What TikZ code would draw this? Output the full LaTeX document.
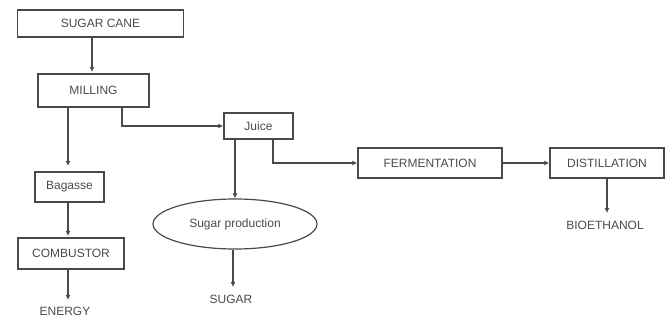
\documentclass[tikz,border=0pt]{standalone}
\usepackage{fontspec}
\setmainfont{Liberation Sans}
\usetikzlibrary{arrows.meta,shapes.geometric}
\definecolor{ink}{HTML}{4A4A4A}
\begin{document}
\begin{tikzpicture}[x=1pt,y=-1pt,
  every node/.style={text=ink,font=\fontsize{12}{14}\selectfont},
  box/.style={draw=ink,line width=1.4pt,inner sep=0pt},
  conn/.style={draw=ink,line width=1.1pt,-{Latex[length=5pt,width=5pt]}}]
\useasboundingbox (0,0) rectangle (672,322);
\node[box,minimum width=166,minimum height=27] (cane) at (100.5,23.5) {SUGAR CANE};
\node[box,minimum width=111,minimum height=33] (mill) at (93.5,90.5) {MILLING};
\node[box,minimum width=69,minimum height=26] (juice) at (258.5,126) {Juice};
\node[box,minimum width=69,minimum height=30] (bag) at (69.5,187) {Bagasse};
\node[box,minimum width=106,minimum height=31] (comb) at (71,253.5) {COMBUSTOR};
\node[ellipse,draw=ink,line width=1.2pt,minimum width=164,minimum height=50,inner sep=0pt] (prod) at (235,224) {Sugar production};
\node[box,minimum width=144,minimum height=30] (ferm) at (430,163) {FERMENTATION};
\node[box,minimum width=114,minimum height=30] (dist) at (607,163) {DISTILLATION};
\node[inner sep=0pt] (eth) at (605,225) {BIOETHANOL};
\node[inner sep=0pt] (sugar) at (231,299) {SUGAR};
\node[inner sep=0pt] (energy) at (65,311) {ENERGY};
\coordinate (j1) at (122,126);
\coordinate (f1) at (273,163);
\draw[conn] (cane.south -| 92,0) -- (92,72);
\draw[conn] (mill.south -| 68,0) -- (68,166);
\draw[conn] (mill.south -| j1) -- (j1) -- (juice.west);
\draw[conn] (juice.south -| 235,0) -- (prod.north -| 235,0);
\draw[conn] (juice.south -| f1) -- (f1) -- (ferm.west);
\draw[conn] (ferm.east) -- (dist.west);
\draw[conn] (dist.south) -- (607,213);
\draw[conn] (prod.south -| 233,0) -- (233,287);
\draw[conn] (bag.south -| 68,0) -- (68,236);
\draw[conn] (comb.south -| 68,0) -- (68,300);
\end{tikzpicture}
\end{document}
